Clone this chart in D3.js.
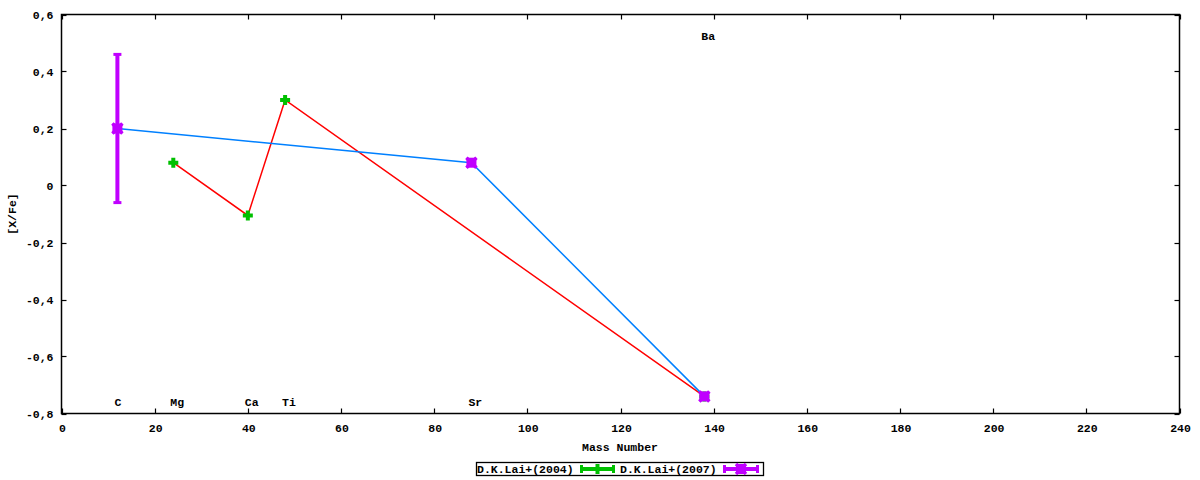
<!DOCTYPE html>
<html><head><meta charset="utf-8">
<script src="https://cdn.jsdelivr.net/npm/d3@7"></script>
<style>
body{margin:0;background:#fff;}
text{font-family:"Liberation Mono","DejaVu Sans Mono",monospace;font-weight:bold;font-size:11.5px;fill:#000;}
</style></head>
<body><svg id="c" width="1200" height="480"></svg>
<script>
// Data
const xTicks = [0,20,40,60,80,100,120,140,160,180,200,220,240];
const yTicks = [-0.8,-0.6,-0.4,-0.2,0,0.2,0.4,0.6];
const yTickLabels = ["-0,8","-0,6","-0,4","-0,2","0","0,2","0,4","0,6"];
const s2004Mass = [24,40,48,138];
const s2004Val = [0.08,-0.105,0.30,-0.74];
const s2007Mass = [12,88,138];
const s2007Val = [0.20,0.08,-0.74];
const s2007Err = [0.26,0,0];
const elemNames = ["C","Mg","Ca","Ti","Sr","Ba"];
const elemMass = [12,24,40,48,88,138];
const elemY = [-0.76,-0.76,-0.76,-0.76,-0.76,0.525];
const seriesNames = ["D.K.Lai+(2004)","D.K.Lai+(2007)"];

const svg = d3.select("#c");
const L=61.5,R=1179.5,T=14.5,B=413.5;
const x = d3.scaleLinear().domain([0,240]).range([L,R]);
const y = d3.scaleLinear().domain([-0.8,0.6]).range([B,T]);

// frame
svg.append("rect").attr("x",L).attr("y",T).attr("width",R-L).attr("height",B-T)
  .attr("fill","none").attr("stroke","#000").attr("stroke-width",1.5);

// ticks (inward, mirrored)
const tl=5;
const g=svg.append("g").attr("stroke","#000").attr("stroke-width",1.2);
xTicks.forEach(t=>{
  const px=Math.round(x(t))+0.5;
  g.append("line").attr("x1",px).attr("x2",px).attr("y1",B).attr("y2",B-tl);
  g.append("line").attr("x1",px).attr("x2",px).attr("y1",T).attr("y2",T+tl);
});
yTicks.forEach(t=>{
  const py=Math.round(y(t))+0.5;
  g.append("line").attr("y1",py).attr("y2",py).attr("x1",L).attr("x2",L+tl);
  g.append("line").attr("y1",py).attr("y2",py).attr("x1",R).attr("x2",R-tl);
});
xTicks.forEach(t=>{
  svg.append("text").attr("x",x(t)+1).attr("y",B+18).attr("text-anchor","middle").text(String(t));
});
yTicks.forEach((t,i)=>{
  svg.append("text").attr("x",L-8).attr("y",y(t)+4).attr("text-anchor","end").text(yTickLabels[i]);
});

// axis labels
svg.append("text").attr("x",620).attr("y",451).attr("text-anchor","middle").text("Mass Number");
svg.append("text").attr("transform","translate(16,"+((T+B)/2)+") rotate(-90)").attr("text-anchor","middle").text("[X/Fe]");

// element labels
elemNames.forEach((n,i)=>{
  svg.append("text").attr("x",x(elemMass[i])-3).attr("y",y(elemY[i])+4).attr("text-anchor","start").text(n);
});

const colRed="#ff0000",colBlue="#0080ff",colGreen="#00c000",colPurple="#c000ff";
const line=d3.line().x(d=>x(d[0])).y(d=>y(d[1]));

// lines
svg.append("path").attr("d",line(s2004Mass.map((m,i)=>[m,s2004Val[i]])))
  .attr("fill","none").attr("stroke",colRed).attr("stroke-width",1.5);
svg.append("path").attr("d",line(s2007Mass.map((m,i)=>[m,s2007Val[i]])))
  .attr("fill","none").attr("stroke",colBlue).attr("stroke-width",1.5);

function plus(gg,cx,cy,col){
  gg.append("path").attr("d",`M${cx-5},${cy}H${cx+5}M${cx},${cy-5}V${cy+5}`)
    .attr("stroke",col).attr("stroke-width",4).attr("fill","none");
}
function xbox(gg,cx,cy,col){
  gg.append("rect").attr("x",cx-5).attr("y",cy-5).attr("width",10).attr("height",10).attr("fill",col);
  gg.append("path").attr("d",`M${cx-5},${cy-5}L${cx+5},${cy+5}M${cx+5},${cy-5}L${cx-5},${cy+5}`)
    .attr("stroke",col).attr("stroke-width",3.5);
}

// 2004 markers
s2004Mass.forEach((m,i)=>plus(svg,x(m),y(s2004Val[i]),colGreen));
// 2007 errorbars + markers
s2007Mass.forEach((m,i)=>{
  const e=s2007Err[i];
  if(e>0){
    const cx=x(m);
    svg.append("line").attr("x1",cx).attr("x2",cx).attr("y1",y(s2007Val[i]+e)).attr("y2",y(s2007Val[i]-e))
      .attr("stroke",colPurple).attr("stroke-width",4);
    [s2007Val[i]+e,s2007Val[i]-e].forEach(v=>{
      svg.append("line").attr("x1",cx-4).attr("x2",cx+4).attr("y1",y(v)).attr("y2",y(v))
        .attr("stroke",colPurple).attr("stroke-width",3);
    });
  }
  xbox(svg,x(m),y(s2007Val[i]),colPurple);
});

// legend
svg.append("rect").attr("x",476.5).attr("y",462.5).attr("width",287).attr("height",13)
  .attr("fill","none").attr("stroke","#000").attr("stroke-width",1.3);
svg.append("text").attr("x",477).attr("y",473).text(seriesNames[0]);
svg.append("text").attr("x",620).attr("y",473).text(seriesNames[1]);
function legSample(x0,x1,col,marker){
  const cy=469;
  svg.append("line").attr("x1",x0).attr("x2",x1).attr("y1",cy).attr("y2",cy).attr("stroke",col).attr("stroke-width",4);
  svg.append("line").attr("x1",x0+1.5).attr("x2",x0+1.5).attr("y1",cy-4).attr("y2",cy+4).attr("stroke",col).attr("stroke-width",3);
  svg.append("line").attr("x1",x1-1.5).attr("x2",x1-1.5).attr("y1",cy-4).attr("y2",cy+4).attr("stroke",col).attr("stroke-width",3);
  marker(svg,(x0+x1)/2,cy,col);
}
legSample(580,615,colGreen,plus);
legSample(723,759,colPurple,xbox);
</script></body></html>
